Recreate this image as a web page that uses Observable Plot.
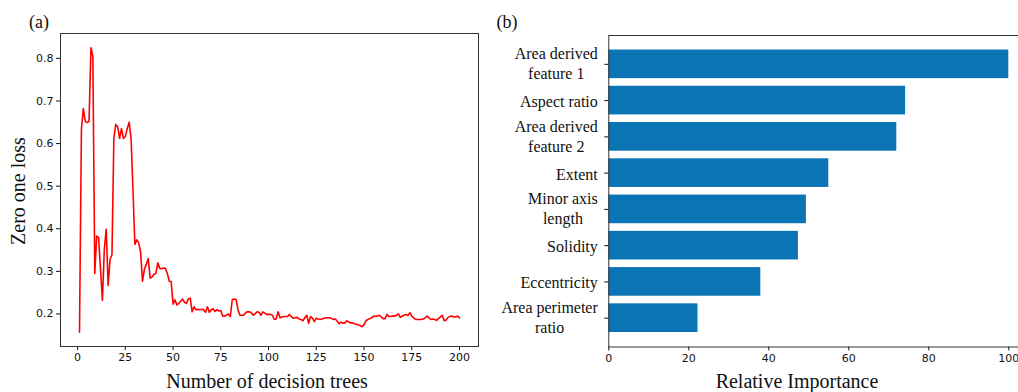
<!DOCTYPE html>
<html>
<head>
<meta charset="utf-8">
<script src="https://cdn.jsdelivr.net/npm/d3@7"></script>
<script src="https://cdn.jsdelivr.net/npm/@observablehq/plot@0.6"></script>
<style>
  html, body { margin: 0; padding: 0; background: #fff; overflow: hidden; }
  #wrap { position: relative; width: 1018px; height: 392px; overflow: hidden; }
  .panel { position: absolute; top: 0; }
  .panel svg { display: block; overflow: visible; max-width: none !important; }
  .lbl {
    position: absolute; font-family: "Liberation Serif", "Times New Roman", serif;
    color: #111; white-space: nowrap; line-height: 1; transform: translate(-50%, -50%);
  }
</style>
</head>
<body>
<div id="wrap">
  <div id="left" class="panel" style="left:0px;width:490px"></div>
  <div id="right" class="panel" style="left:500px;width:530px"></div>
  <div class="lbl" style="left:39px;top:22px;font-size:18px">(a)</div>
  <div class="lbl" style="left:507px;top:22px;font-size:18px">(b)</div>
  <div class="lbl" style="left:18px;top:191px;font-size:20px;transform:translate(-50%,-50%) rotate(-90deg)">Zero one loss</div>
  <div class="lbl" style="left:267px;top:381px;font-size:20px">Number of decision trees</div>
  <div class="lbl" style="left:797px;top:381px;font-size:20px">Relative Importance</div>
</div>
<script>
// (a) zero-one loss of the ensemble as decision trees are added (1..200)
const zeroOneLoss = [
  0.157, 0.633, 0.682, 0.652, 0.649, 0.652, 0.825, 0.805, 0.295, 0.383,
  0.379, 0.305, 0.232, 0.352, 0.399, 0.267, 0.328, 0.339, 0.613, 0.645,
  0.639, 0.612, 0.635, 0.612, 0.617, 0.635, 0.650, 0.613, 0.492, 0.363,
  0.374, 0.367, 0.345, 0.277, 0.305, 0.317, 0.330, 0.284, 0.287, 0.293,
  0.295, 0.320, 0.307, 0.306, 0.308, 0.307, 0.295, 0.277, 0.276, 0.223,
  0.233, 0.221, 0.225, 0.230, 0.235, 0.227, 0.225, 0.235, 0.237, 0.205,
  0.217, 0.210, 0.211, 0.210, 0.211, 0.210, 0.204, 0.217, 0.204, 0.210,
  0.212, 0.206, 0.210, 0.207, 0.208, 0.195, 0.195, 0.197, 0.200, 0.194,
  0.234, 0.235, 0.234, 0.210, 0.197, 0.197, 0.197, 0.203, 0.205, 0.205,
  0.203, 0.197, 0.201, 0.205, 0.204, 0.197, 0.205, 0.202, 0.199, 0.199,
  0.199, 0.197, 0.187, 0.188, 0.205, 0.191, 0.193, 0.194, 0.194, 0.194,
  0.199, 0.193, 0.190, 0.191, 0.192, 0.188, 0.187, 0.184, 0.191, 0.197,
  0.178, 0.194, 0.190, 0.182, 0.190, 0.188, 0.187, 0.188, 0.190, 0.191,
  0.191, 0.191, 0.189, 0.187, 0.188, 0.183, 0.177, 0.181, 0.178, 0.179,
  0.184, 0.181, 0.179, 0.179, 0.177, 0.176, 0.174, 0.173, 0.170, 0.175,
  0.184, 0.187, 0.189, 0.191, 0.195, 0.194, 0.195, 0.197, 0.193, 0.189,
  0.189, 0.199, 0.194, 0.194, 0.195, 0.195, 0.197, 0.200, 0.192, 0.195,
  0.197, 0.199, 0.196, 0.203, 0.195, 0.191, 0.187, 0.187, 0.187, 0.187,
  0.188, 0.191, 0.195, 0.191, 0.187, 0.188, 0.187, 0.185, 0.189, 0.193,
  0.197, 0.184, 0.186, 0.192, 0.194, 0.195, 0.193, 0.193, 0.195, 0.191
];
const treeCount = zeroOneLoss.map((_, i) => i + 1);
const treeTicks = [0, 25, 50, 75, 100, 125, 150, 175, 200];
const lossTicks = [0.2, 0.3, 0.4, 0.5, 0.6, 0.7, 0.8];

// (b) relative feature importance, largest first
const features = [
  "Area derived\nfeature 1",
  "Aspect ratio",
  "Area derived\nfeature 2",
  "Extent",
  "Minor axis\nlength",
  "Solidity",
  "Eccentricity",
  "Area perimeter\nratio"
];
const importance = [100, 74.2, 72, 55, 49.4, 47.4, 38, 22.3];
const importanceTicks = [0, 20, 40, 60, 80, 100];

const tickStyle = {
  fontFamily: "'DejaVu Sans', sans-serif",
  fontSize: "11px",
  color: "#111",
  background: "transparent",
  overflow: "visible"
};

// matplotlib-like 5% margins around the loss extent
const [lo, hi] = d3.extent(zeroOneLoss);
const pad = (hi - lo) * 0.05;

const left = Plot.plot({
  width: 490,
  height: 392,
  marginLeft: 60,
  marginRight: 12,
  marginTop: 33,
  marginBottom: 46,
  style: tickStyle,
  x: {domain: [1 - 199 * 0.05, 200 + 199 * 0.05], ticks: treeTicks, tickSize: 4, tickPadding: 3, label: null},
  y: {domain: [lo - pad, hi + pad], ticks: lossTicks, tickFormat: d3.format(".1f"), tickSize: 4, tickPadding: 3, label: null},
  marks: [
    Plot.line(zeroOneLoss, {x: treeCount, y: zeroOneLoss, stroke: "#ff0000", strokeWidth: 1.6}),
    Plot.frame({stroke: "#333", strokeWidth: 1})
  ]
});
document.getElementById("left").append(left);

// widths of the category labels, so every line of a label is centred on its block
const ctx = document.createElement("canvas").getContext("2d");
ctx.font = "16px 'Liberation Serif'";
const blockWidth = (s) => d3.max(s.split("\n"), (line) => ctx.measureText(line).width);

const labelMarks = features.map((f) =>
  Plot.text([f], {
    x: 0,
    y: (d) => d,
    text: (d) => d,
    textAnchor: "middle",
    lineAnchor: "middle",
    lineHeight: 1.25,
    fontFamily: "'Liberation Serif', 'Times New Roman', serif",
    fontSize: 16,
    fill: "#111",
    dx: -(11 + blockWidth(f) / 2),
    dy: f.includes("\n") ? -1.5 : 0
  })
);

const right = Plot.plot({
  width: 530,
  height: 392,
  marginLeft: 108.3,
  marginRight: 1.7,
  marginTop: 35,
  marginBottom: 45.5,
  style: tickStyle,
  x: {domain: [0, 105], ticks: importanceTicks, tickSize: 4, tickPadding: 3, label: null},
  y: {domain: features, paddingInner: 0.21, paddingOuter: 0.4, round: false, tickSize: 4, tickFormat: () => "", label: null},
  marks: [
    Plot.barX(features, {x: importance, y: features, fill: "#0a74b5"}),
    ...labelMarks,
    Plot.frame({stroke: "#333", strokeWidth: 1})
  ]
});
document.getElementById("right").append(right);
</script>
</body>
</html>
